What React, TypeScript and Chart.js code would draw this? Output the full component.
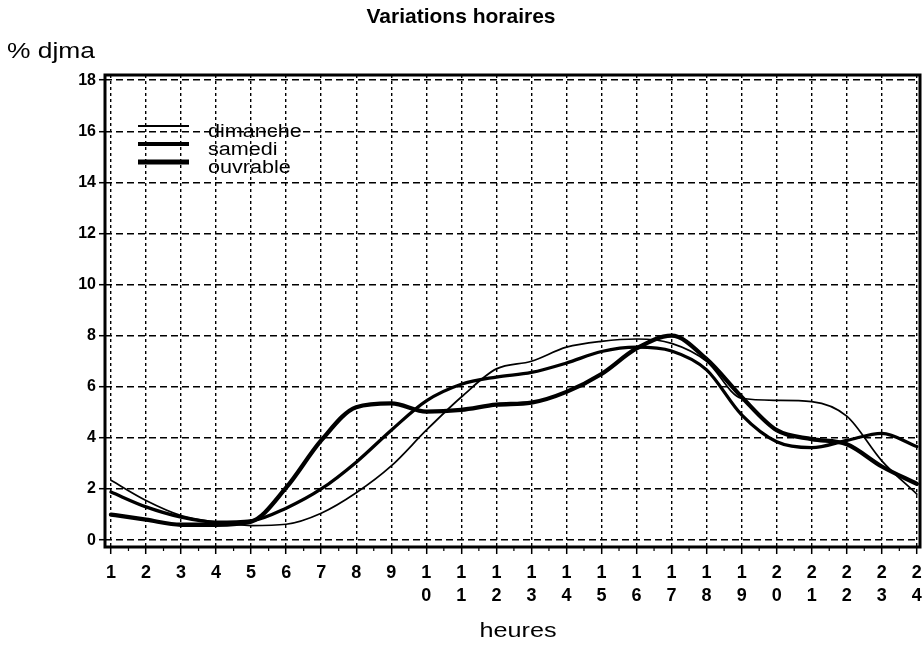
import { useEffect, useRef } from 'react';
import { Chart, registerables } from 'chart.js';

Chart.register(...registerables);

// ---------- data ----------
const hours = [1, 2, 3, 4, 5, 6, 7, 8, 9, 10, 11, 12, 13, 14, 15, 16, 17, 18, 19, 20, 21, 22, 23, 24];
const xTickLabels = ['1', '2', '3', '4', '5', '6', '7', '8', '9', '10', '11', '12', '13', '14', '15', '16', '17', '18', '19', '20', '21', '22', '23', '24'];
const yTicks = [0, 2, 4, 6, 8, 10, 12, 14, 16, 18];

const dimanche = [2.34, 1.55, 0.96, 0.7, 0.57, 0.62, 1.05, 1.85, 2.9, 4.3, 5.6, 6.7, 7.0, 7.55, 7.78, 7.87, 7.7, 7.0, 5.55, 5.47, 5.42, 4.85, 3.1, 1.8];
const samedi = [1.88, 1.3, 0.9, 0.7, 0.75, 1.25, 2.0, 3.05, 4.3, 5.45, 6.1, 6.38, 6.56, 6.93, 7.38, 7.55, 7.4, 6.66, 4.9, 3.85, 3.62, 3.9, 4.18, 3.66];
const ouvrable = [1.0, 0.8, 0.6, 0.6, 0.72, 2.05, 3.9, 5.2, 5.35, 5.03, 5.1, 5.3, 5.38, 5.8, 6.5, 7.5, 8.0, 7.08, 5.6, 4.3, 3.95, 3.75, 2.88, 2.2];

const seriesNames = ['dimanche', 'samedi', 'ouvrable'];
const seriesWidths = [1.7, 3.3, 4.3];

const FONT = '"Liberation Sans", Arial, Helvetica, sans-serif';

function drawText(
  ctx: CanvasRenderingContext2D,
  s: string,
  x: number,
  y: number,
  font: string,
  sx: number,
  align: CanvasTextAlign
) {
  ctx.save();
  ctx.font = font;
  ctx.fillStyle = '#000';
  ctx.textBaseline = 'alphabetic';
  ctx.textAlign = align;
  ctx.translate(x, y);
  ctx.scale(sx, 1);
  ctx.fillText(s, 0, 0);
  ctx.restore();
}

const decorPlugin = {
  id: 'decor',
  afterDraw(chart: any) {
    const ctx: CanvasRenderingContext2D = chart.ctx;
    const { left, right, top, bottom } = chart.chartArea;
    const xs = chart.scales.x;

    // frame
    ctx.save();
    ctx.strokeStyle = '#000';
    ctx.lineWidth = 3;
    ctx.strokeRect(left, top, right - left, bottom - top);

    // minor half-hour ticks
    ctx.lineWidth = 1.2;
    ctx.beginPath();
    for (let i = 0; i < hours.length - 1; i++) {
      const px = xs.getPixelForValue((hours[i] + hours[i + 1]) / 2);
      ctx.moveTo(px, bottom);
      ctx.lineTo(px, bottom + 4);
    }
    ctx.stroke();
    ctx.restore();

    // titles
    drawText(ctx, 'Variations horaires', 461, 23, `bold 21px ${FONT}`, 1, 'center');
    drawText(ctx, '% djma', 7, 58, `22px ${FONT}`, 1.2, 'left');
    drawText(ctx, 'heures', 518, 637, `21px ${FONT}`, 1.2, 'center');

    // legend
    const lx1 = 138;
    const lx2 = 189;
    const lineYs = [126, 144, 162];
    const textYs = [137, 155, 173];
    seriesNames.forEach((name, i) => {
      ctx.save();
      ctx.strokeStyle = '#000';
      ctx.lineWidth = seriesWidths[i] + 0.5;
      ctx.beginPath();
      ctx.moveTo(lx1, lineYs[i]);
      ctx.lineTo(lx2, lineYs[i]);
      ctx.stroke();
      ctx.restore();
      drawText(ctx, name, 208, textYs[i], `18px ${FONT}`, 1.2, 'left');
    });
  },
};

export default function App() {
  const ref = useRef<HTMLCanvasElement | null>(null);

  useEffect(() => {
    const canvas = ref.current;
    if (!canvas) return;
    const series = [dimanche, samedi, ouvrable];
    const chart = new Chart(canvas, {
      type: 'line',
      data: {
        datasets: series.map((vals, si) => ({
          label: seriesNames[si],
          data: hours.map((h, i) => ({ x: h, y: vals[i] })),
          borderColor: '#000',
          backgroundColor: '#000',
          borderWidth: seriesWidths[si],
          pointRadius: 0,
          pointHoverRadius: 0,
          cubicInterpolationMode: 'monotone' as const,
          fill: false,
          borderCapStyle: 'round' as const,
          borderJoinStyle: 'round' as const,
        })),
      },
      options: {
        animation: false,
        responsive: false,
        maintainAspectRatio: false,
        devicePixelRatio: 1,
        layout: { padding: { top: 75, right: 2, left: 0, bottom: 0 } },
        plugins: {
          legend: { display: false },
          title: { display: false },
          tooltip: { enabled: false },
        },
        events: [],
        scales: {
          x: {
            type: 'linear',
            min: 0.83,
            max: 24.09,
            afterBuildTicks: (axis: any) => {
              axis.ticks = hours.map((v) => ({ value: v }));
            },
            afterFit: (s: any) => {
              s.height = 99;
              s.paddingLeft = 0;
              s.paddingRight = 0;
            },
            ticks: {
              autoSkip: false,
              maxRotation: 0,
              minRotation: 0,
              padding: 7,
              color: '#000',
              font: { family: FONT, size: 18, weight: 'bold', lineHeight: 1.3 },
              callback: (_v: any, i: number) => xTickLabels[i].split(''),
            },
            grid: {
              color: '#000',
              lineWidth: 1.4,
              drawTicks: true,
              tickLength: 7,
              tickColor: '#000',
              tickWidth: 1.5,
            },
            border: { display: false, dash: [3, 3] },
          },
          y: {
            type: 'linear',
            min: -0.27,
            max: 18.2,
            afterBuildTicks: (axis: any) => {
              axis.ticks = yTicks.map((v) => ({ value: v }));
            },
            afterFit: (s: any) => {
              s.width = 105;
              s.paddingTop = 0;
              s.paddingBottom = 0;
            },
            ticks: {
              padding: 3,
              color: '#000',
              font: { family: FONT, size: 16, weight: 'bold' },
            },
            grid: {
              color: '#000',
              lineWidth: 1.4,
              drawTicks: true,
              tickLength: 6,
              tickColor: '#000',
              tickWidth: 1.5,
            },
            border: { display: false, dash: [7, 4] },
          },
        },
      },
      plugins: [decorPlugin],
    } as any);
    return () => chart.destroy();
  }, []);

  return (
    <div style={{ position: 'absolute', left: 0, top: 0, width: 922, height: 646, background: '#fff' }}>
      <canvas ref={ref} width={922} height={646} style={{ display: 'block' }} />
    </div>
  );
}
